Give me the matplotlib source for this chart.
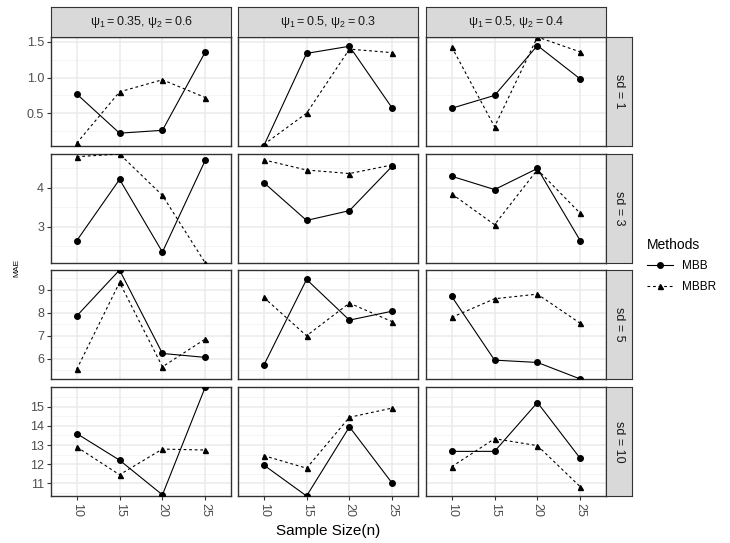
import matplotlib
matplotlib.use("Agg")
import matplotlib.pyplot as plt
from matplotlib.lines import Line2D
import numpy as np

plt.rcParams['font.family'] = ['Liberation Sans', 'DejaVu Sans']
plt.rcParams['mathtext.default'] = 'regular'

# Data
sample_sizes = ['10', '15', '20', '25']
sd_labels = ['sd = 1', 'sd = 3', 'sd = 5', 'sd = 10']
psi_labels = [r'$\psi_1 = 0.35$, $\psi_2 = 0.6$',
              r'$\psi_1 = 0.5$, $\psi_2 = 0.3$',
              r'$\psi_1 = 0.5$, $\psi_2 = 0.4$']

# each list: [psi panel 1, psi panel 2, psi panel 3], values for n = 10, 15, 20, 25
mbb_sd1 = [[0.77, 0.22, 0.26, 1.36], [0.04, 1.34, 1.44, 0.57], [0.57, 0.75, 1.45, 0.98]]
mbbr_sd1 = [[0.08, 0.80, 0.97, 0.72], [0.06, 0.50, 1.40, 1.35], [1.43, 0.31, 1.57, 1.36]]
mbb_sd3 = [[2.64, 4.21, 2.35, 4.70], [4.13, 3.16, 3.41, 4.55], [4.29, 3.95, 4.49, 2.64]]
mbbr_sd3 = [[4.79, 4.86, 3.80, 2.07], [4.71, 4.45, 4.36, 4.58], [3.84, 3.05, 4.46, 3.34]]
mbb_sd5 = [[7.86, 9.86, 6.23, 6.06], [5.71, 9.45, 7.68, 8.07], [8.71, 5.94, 5.84, 5.12]]
mbbr_sd5 = [[5.54, 9.32, 5.65, 6.86], [8.67, 7.00, 8.42, 7.61], [7.80, 8.61, 8.81, 7.54]]
mbb_sd10 = [[13.60, 12.21, 10.40, 16.03], [11.96, 10.34, 13.95, 11.00], [12.67, 12.67, 15.22, 12.30]]
mbbr_sd10 = [[12.90, 11.45, 12.79, 12.74], [12.45, 11.79, 14.45, 14.93], [11.87, 13.33, 12.97, 10.82]]

mbb_rows = [mbb_sd1, mbb_sd3, mbb_sd5, mbb_sd10]
mbbr_rows = [mbbr_sd1, mbbr_sd3, mbbr_sd5, mbbr_sd10]
y_ticks = [[0.5, 1.0, 1.5], [3, 4], [6, 7, 8, 9], [11, 12, 13, 14, 15]]
y_ticklabels = [['0.5', '1.0', '1.5'], ['3', '4'], ['6', '7', '8', '9'],
                ['11', '12', '13', '14', '15']]
y_step = [0.5, 1, 1, 1]

# layout in pixels
W, H = 730, 543
col_left = [51, 238, 426]
panel_w = 180
row_top = [37, 154, 270, 387]
panel_h = 109
strip_top_h = 30
strip_right_w = 26

fig = plt.figure(figsize=(W / 100, H / 100), dpi=100)
fig.patch.set_facecolor('white')

def px_axes(x, y, w, h):
    return fig.add_axes([x / W, 1 - (y + h) / H, w / W, h / H])

grid_major = '#EBEBEB'
grid_minor = '#F2F2F2'
border = '#333333'
strip_fill = '#D9D9D9'

x = np.arange(len(sample_sizes))

for r in range(4):
    lo = min(min(min(s) for s in mbb_rows[r]), min(min(s) for s in mbbr_rows[r]))
    hi = max(max(max(s) for s in mbb_rows[r]), max(max(s) for s in mbbr_rows[r]))
    for c in range(3):
        ax = px_axes(col_left[c], row_top[r], panel_w, panel_h)
        ax.set_xlim(-0.6, 3.6)
        ax.set_ylim(lo, hi)
        # grid
        minor = np.arange(y_ticks[r][0] - y_step[r] * 1.5, hi + y_step[r], y_step[r])
        for m in minor:
            ax.axhline(m, color=grid_minor, lw=0.6, zorder=0)
        for t in y_ticks[r]:
            ax.axhline(t, color=grid_major, lw=1.1, zorder=0)
        for xi in x:
            ax.axvline(xi, color=grid_major, lw=1.1, zorder=0)

        ax.plot(x, mbb_rows[r][c], color='black', lw=0.8, ls='-',
                marker='o', ms=4, zorder=3)
        ax.plot(x, mbbr_rows[r][c], color='black', lw=0.8, ls=(0, (2.5, 2.5)),
                marker='^', ms=3.6, zorder=3)

        for sp in ax.spines.values():
            sp.set_color(border)
            sp.set_linewidth(1.0)
        ax.set_xticks(x)
        ax.set_yticks(y_ticks[r])
        ax.tick_params(axis='both', colors=border, length=3, width=0.8,
                       labelsize=9, labelcolor='#4D4D4D', pad=2)
        if c == 0:
            ax.set_yticklabels(y_ticklabels[r])
        else:
            ax.tick_params(axis='y', labelleft=False, length=0)
        if r == 3:
            ax.set_xticklabels(sample_sizes, rotation=270)
        else:
            ax.tick_params(axis='x', labelbottom=False, length=0)

        # top strips
        if r == 0:
            s = px_axes(col_left[c], row_top[0] - strip_top_h, panel_w, strip_top_h)
            s.set_facecolor(strip_fill)
            s.set_xticks([]); s.set_yticks([])
            for sp in s.spines.values():
                sp.set_color(border)
            s.text(0.5, 0.5, psi_labels[c], ha='center', va='center',
                   fontsize=9, color='#1A1A1A', transform=s.transAxes)
    # right strips
    s = px_axes(col_left[2] + panel_w, row_top[r], strip_right_w, panel_h)
    s.set_facecolor(strip_fill)
    s.set_xticks([]); s.set_yticks([])
    for sp in s.spines.values():
        sp.set_color(border)
    s.text(0.5, 0.5, sd_labels[r], ha='center', va='center', rotation=270,
           fontsize=9, color='#1A1A1A', transform=s.transAxes)

fig.text((col_left[0] + col_left[2] + panel_w) / 2 / W, 1 - 531 / H, 'Sample Size(n)',
         ha='center', va='center', fontsize=11)
fig.text(17 / W, 1 - 268 / H, 'MAE', ha='center', va='center', rotation=90, fontsize=6)

handles = [Line2D([], [], color='black', lw=0.8, ls='-', marker='o', ms=4),
           Line2D([], [], color='black', lw=0.8, ls=(0, (2.5, 2.5)), marker='^', ms=3.6)]
leg = fig.legend(handles, ['MBB', 'MBBR'], title='Methods', loc='upper left',
                 bbox_to_anchor=(636 / W, 1 - 227 / H), frameon=False,
                 fontsize=8.5, title_fontsize=10, handlelength=2.2,
                 labelspacing=0.75, alignment='left')

fig.savefig('out.png', dpi=100, facecolor='white')
